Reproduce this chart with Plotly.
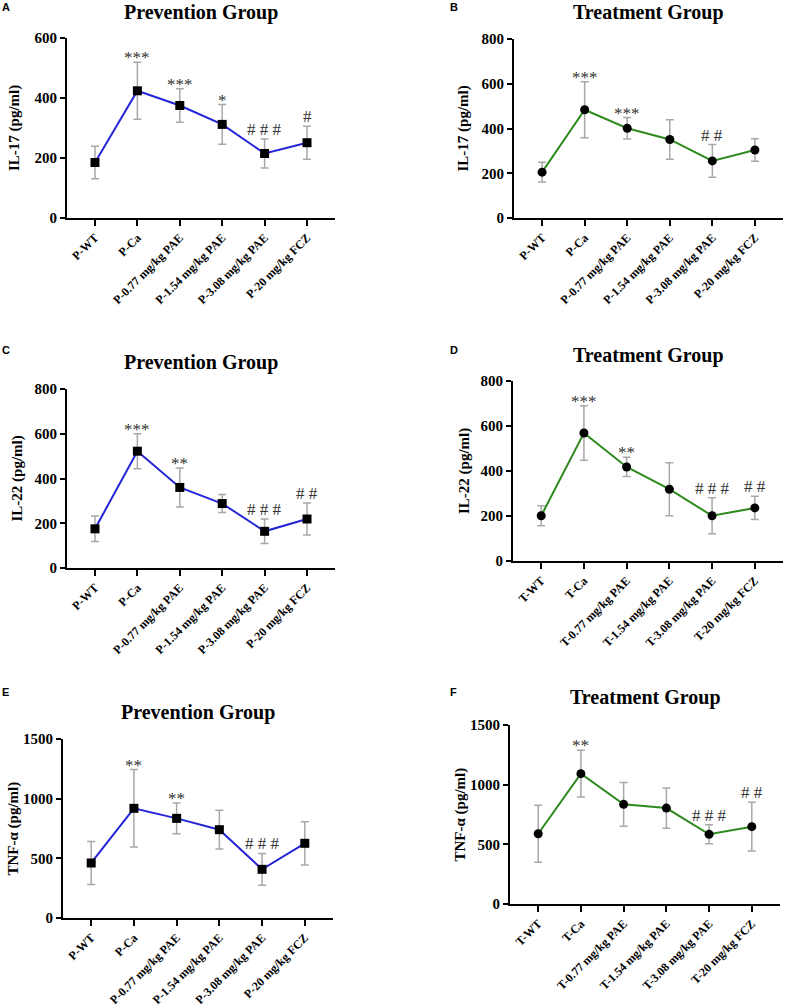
import plotly.graph_objects as go

W, H = 786, 1006

# categories
cats_p = ["P-WT", "P-Ca", "P-0.77 mg/kg PAE", "P-1.54 mg/kg PAE",
          "P-3.08 mg/kg PAE", "P-20 mg/kg FCZ"]
cats_t = ["T-WT", "T-Ca", "T-0.77 mg/kg PAE", "T-1.54 mg/kg PAE",
          "T-3.08 mg/kg PAE", "T-20 mg/kg FCZ"]

# means and SD (pg/ml)
il17_prev = [185, 424, 375, 312, 215, 251]
il17_prev_sd = [54, 95, 56, 66, 48, 55]
il17_treat = [205, 484, 401, 351, 255, 304]
il17_treat_sd = [44, 125, 48, 88, 73, 50]
il22_prev = [175, 522, 360, 288, 164, 219]
il22_prev_sd = [57, 78, 87, 40, 55, 72]
il22_treat = [201, 569, 418, 319, 201, 236]
il22_treat_sd = [44, 121, 43, 118, 80, 52]
tnf_prev = [461, 919, 835, 740, 408, 626]
tnf_prev_sd = [180, 325, 128, 162, 133, 181]
tnf_treat = [589, 1092, 835, 804, 584, 648]
tnf_treat_sd = [239, 196, 183, 169, 80, 204]

# significance marks
sig_a = ["", "***", "***", "*", "# # #", "#"]
sig_b = ["", "***", "***", "", "# #", ""]
sig_c = ["", "***", "**", "", "# # #", "# #"]
sig_d = ["", "***", "**", "", "# # #", "# #"]
sig_e = ["", "**", "**", "", "# # #", ""]
sig_f = ["", "**", "", "", "# # #", "# #"]

BLUE = "#2424d8"
GREEN = "#2e8a1e"
SERIF = "Liberation Serif"

# panel boxes in pixels: x0, x1, ytop, ybottom
panels = [
    dict(letter="A", title="Prevention Group", ylab="IL-17 (pg/ml)", cats=cats_p,
         y=il17_prev, sd=il17_prev_sd, sig=sig_a, ymax=600, dt=200, color=BLUE, sym="square",
         box=(67, 335, 38, 218), lab=(6, 7), ttl=12, ylx=15),
    dict(letter="B", title="Treatment Group", ylab="IL-17 (pg/ml)", cats=cats_p,
         y=il17_treat, sd=il17_treat_sd, sig=sig_b, ymax=800, dt=200, color=GREEN, sym="circle",
         box=(514, 783, 39, 218), lab=(454, 7), ttl=12, ylx=463),
    dict(letter="C", title="Prevention Group", ylab="IL-22 (pg/ml)", cats=cats_p,
         y=il22_prev, sd=il22_prev_sd, sig=sig_c, ymax=800, dt=200, color=BLUE, sym="square",
         box=(67, 335, 389, 568), lab=(6, 350), ttl=362, ylx=17),
    dict(letter="D", title="Treatment Group", ylab="IL-22 (pg/ml)", cats=cats_t,
         y=il22_treat, sd=il22_treat_sd, sig=sig_d, ymax=800, dt=200, color=GREEN, sym="circle",
         box=(513, 783, 381, 561), lab=(454, 350), ttl=355, ylx=464),
    dict(letter="E", title="Prevention Group", ylab="TNF-α (pg/ml)", cats=cats_p,
         y=tnf_prev, sd=tnf_prev_sd, sig=sig_e, ymax=1500, dt=500, color=BLUE, sym="square",
         box=(63, 333, 739, 918), lab=(5, 692), ttl=712, ylx=13),
    dict(letter="F", title="Treatment Group", ylab="TNF-α (pg/ml)", cats=cats_t,
         y=tnf_treat, sd=tnf_treat_sd, sig=sig_f, ymax=1500, dt=500, color=GREEN, sym="circle",
         box=(510, 780, 725, 904), lab=(453, 692), ttl=697, ylx=460),
]


def px(x):
    return x / W


def py(y):
    return 1 - y / H


fig = go.Figure()
annotations = []

for i, p in enumerate(panels):
    n = "" if i == 0 else str(i + 1)
    x0, x1, yt, yb = p["box"]

    fig.add_trace(go.Scatter(
        x=p["cats"], y=p["y"], mode="lines+markers",
        xaxis="x" + n, yaxis="y" + n, showlegend=False,
        line=dict(color=p["color"], width=2),
        marker=dict(symbol=p["sym"], size=9, color="black"),
        error_y=dict(type="data", array=p["sd"], color="#a8a8a8", thickness=1.5, width=4),
    ))

    # significance marks sit just above the upper error bar
    for c, m, s, mark in zip(p["cats"], p["y"], p["sd"], p["sig"]):
        if mark:
            annotations.append(dict(
                x=c, y=m + s, xref="x" + n, yref="y" + n, text=mark, showarrow=False,
                xanchor="center", yanchor="bottom", yshift=-7 if "*" in mark else -2,
                font=dict(family=SERIF, size=17, color="#333333")))

    fig.update_layout(**{
        "xaxis" + n: dict(
            domain=[px(x0), px(x1)], anchor="y" + n, type="category",
            range=[-0.66, 5.66], showline=True, linewidth=2, linecolor="black",
            ticks="outside", ticklen=6, tickwidth=1.5, tickcolor="black",
            tickangle=-45, showgrid=False, zeroline=False, automargin=False,
            tickfont=dict(family=SERIF, size=12, color="black", weight="bold")),
        "yaxis" + n: dict(
            domain=[py(yb), py(yt)], anchor="x" + n, range=[0, p["ymax"]],
            dtick=p["dt"], showline=True, linewidth=2, linecolor="black",
            ticks="outside", ticklen=5, tickwidth=2, tickcolor="black",
            showgrid=False, zeroline=False, automargin=False,
            tickfont=dict(family=SERIF, size=15, color="black", weight="bold")),
    })

    annotations.append(dict(
        x=px((x0 + x1) / 2), y=py(p["ttl"]), xref="paper", yref="paper",
        xanchor="center", yanchor="middle",
        text="<b>" + p["title"] + "</b>", showarrow=False,
        font=dict(family=SERIF, size=20, color="black")))
    annotations.append(dict(
        x=px(p["ylx"]), y=py((yt + yb) / 2), xref="paper", yref="paper",
        xanchor="center", yanchor="middle",
        text="<b>" + p["ylab"] + "</b>", showarrow=False, textangle=-90,
        font=dict(family=SERIF, size=15, color="black")))
    annotations.append(dict(
        x=px(p["lab"][0]), y=py(p["lab"][1]), xref="paper", yref="paper",
        xanchor="center", yanchor="middle",
        text="<b>" + p["letter"] + "</b>", showarrow=False,
        font=dict(family="Liberation Sans", size=11, color="black")))

fig.update_layout(
    width=W, height=H, margin=dict(l=0, r=0, t=0, b=0, autoexpand=False),
    paper_bgcolor="white", plot_bgcolor="white",
    annotations=annotations,
)

# drop the browser's default 8px body margin so the figure fills the window
fig.write_html("out.html", config={"displayModeBar": False},
               post_script="document.body.style.margin = '0';")
